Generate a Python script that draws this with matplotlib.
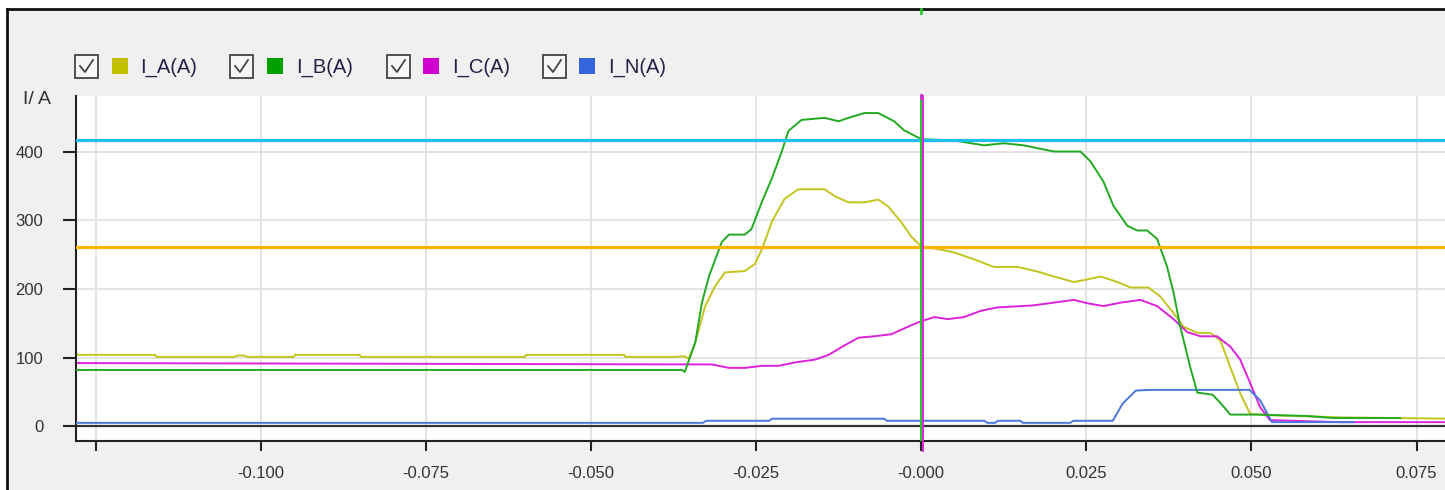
import matplotlib
matplotlib.use("Agg")
import matplotlib.pyplot as plt
from matplotlib.patches import Rectangle
from matplotlib.lines import Line2D

plt.rcParams['font.family'] = ['Liberation Sans', 'DejaVu Sans']

# ---------------- data ----------------
t_A = [-0.128, -0.116, -0.1158, -0.104, -0.1035, -0.1025, -0.102, -0.095, -0.0948, -0.085,
       -0.0848, -0.060, -0.0598, -0.045, -0.0448, -0.0372, -0.0358, -0.0352, -0.0342, -0.0327,
       -0.0312, -0.0297, -0.0267, -0.0252, -0.0241, -0.0226, -0.0207, -0.0186, -0.0146, -0.0131,
       -0.0110, -0.0086, -0.0065, -0.0050, -0.0030, -0.0015, 0.0, 0.0030, 0.0050, 0.0080,
       0.0110, 0.0146, 0.0177, 0.0201, 0.0231, 0.0252, 0.0272, 0.0297, 0.0317, 0.0344,
       0.0362, 0.0382, 0.0397, 0.0418, 0.0438, 0.0453, 0.0468, 0.0483, 0.0498, 0.0533,
       0.0634, 0.0800]
i_A = [104, 104, 101, 101, 103, 103, 101, 101, 104, 104,
       101, 101, 104, 104, 101, 101, 102, 98, 122, 175,
       204, 224, 226, 236, 258, 298, 331, 345, 345, 335,
       326, 326, 330, 320, 297, 276, 262, 257, 253, 243,
       232, 232, 225, 218, 210, 214, 218, 210, 202, 202,
       189, 165, 145, 136, 136, 125, 86, 48, 18, 16,
       13, 11]

t_B = [-0.128, -0.0362, -0.0358, -0.0342, -0.0332, -0.0321, -0.0302, -0.0291, -0.0267, -0.0257,
       -0.0241, -0.0226, -0.0211, -0.0201, -0.0181, -0.0146, -0.0125, -0.0110, -0.0086, -0.0065,
       -0.0041, -0.0026, 0.0, 0.0050, 0.0095, 0.0125, 0.0155, 0.0201, 0.0241, 0.0256,
       0.0276, 0.0291, 0.0312, 0.0327, 0.0342, 0.0357, 0.0372, 0.0382, 0.0392, 0.0407,
       0.0418, 0.0441, 0.0453, 0.0468, 0.0509, 0.0584, 0.0624, 0.0725]
i_B = [82, 82, 79, 122, 180, 219, 268, 279, 279, 287,
       327, 361, 400, 430, 446, 449, 444, 449, 456, 456,
       444, 431, 418, 416, 409, 412, 409, 400, 400, 386,
       356, 321, 292, 285, 285, 273, 233, 195, 146, 87,
       49, 46, 34, 17, 17, 15, 12, 12]

t_C = [-0.128, -0.0317, -0.0291, -0.0267, -0.0241, -0.0216, -0.0191, -0.0161, -0.0140, -0.0121,
       -0.0095, -0.0071, -0.0045, -0.0020, 0.0, 0.0020, 0.0040, 0.0065, 0.0090, 0.0115,
       0.0170, 0.0231, 0.0252, 0.0276, 0.0302, 0.0332, 0.0357, 0.0382, 0.0403,
       0.0423, 0.0448, 0.0468, 0.0483, 0.0498, 0.0513, 0.0528, 0.0634, 0.0800]
i_C = [92, 90, 85, 85, 88, 88, 93, 97, 104, 115,
       129, 131, 134, 145, 153, 159, 156, 159, 168, 173,
       176, 184, 179, 175, 180, 184, 175, 156, 137,
       131, 131, 116, 97, 63, 28, 9, 6, 6]

t_N = [-0.128, -0.0330, -0.0326, -0.0230, -0.0226, -0.0056, -0.0052, 0.0096, 0.0100, 0.0112,
       0.0116, 0.0150, 0.0154, 0.0226, 0.0230, 0.0290, 0.0305, 0.0325, 0.0348, 0.0497,
       0.0513, 0.0531, 0.0655]
i_N = [5, 5, 8, 8, 11, 11, 8, 8, 5, 5,
       8, 8, 5, 5, 8, 8, 33, 52, 53, 53,
       38, 6, 6]

threshold_high = 416.7
threshold_low = 261.4
cursor_t = 0.0

series_names = ['I_A(A)', 'I_B(A)', 'I_C(A)', 'I_N(A)']
x_ticks = [-0.125, -0.100, -0.075, -0.050, -0.025, 0.0, 0.025, 0.050, 0.075]
x_tick_labels = ['', '-0.100', '-0.075', '-0.050', '-0.025', '-0.000', '0.025', '0.050', '0.075']
y_ticks = [0, 100, 200, 300, 400]
y_label = 'I/ A'

# ---------------- style ----------------
W, H = 1445, 490
line_colors = ['#c4c41e', '#22aa22', '#dd22dd', '#4a78d8']
legend_colors = ['#c0c000', '#00a000', '#d000d0', '#3366dd']


def fx(px):
    return px / W


def fy(py):
    return 1 - py / H


fig = plt.figure(figsize=(W / 100, H / 100), dpi=100, facecolor='white')

# window background + frame
fig.patches.append(Rectangle((fx(7), 0), 1 - fx(7), fy(9), transform=fig.transFigure,
                             facecolor='#f0f0f0', edgecolor='none', zorder=-10))
fig.lines.append(Line2D([fx(7), 1], [fy(9), fy(9)], transform=fig.transFigure,
                        color='#111111', lw=2.0, zorder=-5))
fig.lines.append(Line2D([fx(7), fx(7)], [0, fy(9)], transform=fig.transFigure,
                        color='#111111', lw=2.0, zorder=-5))

ax_left, ax_right, ax_top, ax_bottom = 75.7, 1445, 96, 440.5
ax = fig.add_axes([fx(ax_left), fy(ax_bottom), fx(ax_right) - fx(ax_left),
                   fy(ax_top) - fy(ax_bottom)])
ax.set_zorder(1)
ax.set_facecolor('white')
ax.set_xlim(-0.1280, 0.0793)
ax.set_ylim(-20.7, 480.8)

for s in ['top', 'right']:
    ax.spines[s].set_visible(False)
for s in ['left', 'bottom']:
    ax.spines[s].set_linewidth(1.5)
    ax.spines[s].set_color('#222222')

ax.set_xticks(x_ticks)
ax.set_xticklabels(x_tick_labels)
ax.set_yticks(y_ticks)
ax.tick_params(axis='y', length=9.4, width=1.5, pad=14, labelsize=12, labelcolor='#333333',
               color='#222222')
ax.tick_params(axis='x', length=7, width=1.5, pad=11, labelsize=12, labelcolor='#333333',
               color='#222222')
ax.grid(True, color='#e2e2e2', lw=1.3, zorder=0)
ax.set_axisbelow(True)

ax.axhline(0, color='#333333', lw=1.6, zorder=1)

ax.plot(t_A, i_A, color=line_colors[0], lw=1.4, zorder=2)
ax.plot(t_C, i_C, color=line_colors[2], lw=1.4, zorder=2.5)
ax.plot(t_N, i_N, color=line_colors[3], lw=1.4, zorder=2.6)
ax.plot(t_B, i_B, color=line_colors[1], lw=1.4, zorder=3)

ax.axhline(threshold_high, color='#1ec0f0', lw=2.3, zorder=4)
ax.axhline(threshold_low, color='#ffb400', lw=2.3, zorder=4)

ax.axvline(cursor_t, color='#22cc22', lw=1.4, zorder=5)
ax.axvline(cursor_t + 0.0002, color='#e020e0', lw=1.4, zorder=5.1, clip_on=False,
           ymin=-0.03, ymax=1.0)

# cursor markers at top
fig.lines.append(Line2D([fx(921), fx(921)], [fy(13), fy(9)], transform=fig.transFigure,
                        color='#22cc22', lw=2))
fig.lines.append(Line2D([fx(921), fx(921)], [fy(98), fy(95)], transform=fig.transFigure,
                        color='#cc33cc', lw=2))

# y label
fig.text(fx(37), fy(100), y_label, ha='center', va='center', fontsize=14, color='#333333')

# legend
box_x = [75, 230, 387, 543]
sq_x = [112, 267, 423, 579]
txt_x = [140, 296, 452, 608]
for k in range(4):
    bx = box_x[k]
    fig.patches.append(Rectangle((fx(bx), fy(78)), fx(23), 23 / H, transform=fig.transFigure,
                                 facecolor='#f6f6f6', edgecolor='#444444', lw=1.3))
    fig.lines.append(Line2D([fx(bx + 5), fx(bx + 10), fx(bx + 18)],
                            [fy(66), fy(72), fy(60)], transform=fig.transFigure,
                            color='#444444', lw=1.3))
    fig.patches.append(Rectangle((fx(sq_x[k]), fy(74)), fx(16), 16 / H,
                                 transform=fig.transFigure, facecolor=legend_colors[k],
                                 edgecolor='none'))
    fig.text(fx(txt_x[k]), fy(67), series_names[k], ha='left', va='center', fontsize=14.5,
             color='#222244')

fig.savefig('out.png', dpi=100, facecolor=fig.get_facecolor())
